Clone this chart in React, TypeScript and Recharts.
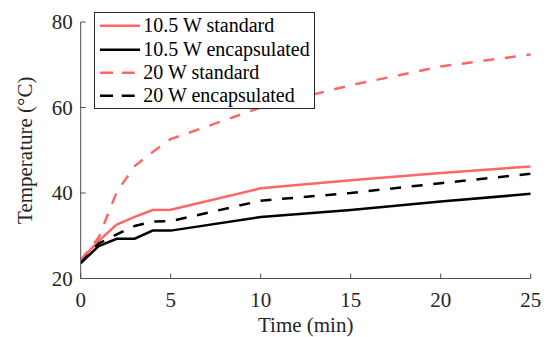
import React from 'react';
import { LineChart, Line, XAxis, YAxis } from 'recharts';

const timeMin = [0, 1, 2, 3, 4, 5, 10, 15, 20, 25];
const std105 = [24.3, 28.8, 32.6, 34.4, 36.0, 36.1, 41.1, 43.0, 44.7, 46.2];
const enc105 = [23.6, 27.6, 29.3, 29.3, 31.2, 31.2, 34.4, 36.0, 38.0, 39.8];
const std20 = [24.3, 29.6, 40.2, 46.3, 49.6, 52.6, 60.0, 65.2, 69.6, 72.4];
const enc20 = [23.6, 28.2, 30.3, 32.3, 33.3, 33.4, 38.2, 40.0, 42.3, 44.5];

const seriesNames = ['10.5 W standard', '10.5 W encapsulated', '20 W standard', '20 W encapsulated'];
const xTicks = [0, 5, 10, 15, 20, 25];
const yTicks = [20, 40, 60, 80];

const RED = '#ff6666';
const BLACK = '#000000';
const DASH = '11 10.7';
const FONT = '"Liberation Serif", "Times New Roman", serif';

const data = timeMin.map((t, i) => ({
  t,
  s105: std105[i],
  e105: enc105[i],
  s20: std20[i],
  e20: enc20[i],
}));

const seriesStyle = [
  { key: 's105', color: RED, dash: undefined as string | undefined },
  { key: 'e105', color: BLACK, dash: undefined as string | undefined },
  { key: 's20', color: RED, dash: DASH },
  { key: 'e20', color: BLACK, dash: DASH },
];

const XTick = (props: any) => {
  const { x, y, payload } = props;
  return (
    <text x={x} y={y} dy={14} textAnchor="middle" fontFamily={FONT} fontSize={21} fill="#262626">
      {payload.value}
    </text>
  );
};

const YTick = (props: any) => {
  const { x, y, payload } = props;
  return (
    <text x={x} y={y} dy={7} textAnchor="end" fontFamily={FONT} fontSize={21} fill="#262626">
      {payload.value}
    </text>
  );
};

export default function App() {
  return (
    <div style={{ position: 'absolute', left: 0, top: 0, width: 549, height: 337, background: '#fff', fontFamily: FONT }}>
      <LineChart
        width={549}
        height={337}
        data={data}
        margin={{ top: 22, right: 18.3, bottom: 0, left: 0 }}
        style={{ fontFamily: FONT }}
      >
        <XAxis
          dataKey="t"
          type="number"
          domain={[0, 25]}
          ticks={xTicks}
          height={58.5}
          tickSize={-5}
          tickMargin={19.5}
          stroke="#4d4d4d"
          tick={<XTick />}
          interval={0}
          allowDataOverflow
          label={{ value: 'Time (min)', position: 'insideBottom', offset: 5, style: { fontFamily: FONT, fontSize: 21, fill: '#262626' } }}
        />
        <YAxis
          type="number"
          domain={[20, 80]}
          ticks={yTicks}
          width={80.7}
          tickSize={-5}
          tickMargin={13}
          stroke="#4d4d4d"
          tick={<YTick />}
          interval={0}
          allowDataOverflow
          label={{ value: 'Temperature (°C)', angle: -90, position: 'insideLeft', offset: 24.5, style: { textAnchor: 'middle', fontFamily: FONT, fontSize: 21, fill: '#262626' } }}
        />
        {seriesStyle.map((s, i) => (
          <Line
            key={s.key}
            name={seriesNames[i]}
            dataKey={s.key}
            type="linear"
            stroke={s.color}
            strokeWidth={2.5}
            strokeDasharray={s.dash}
            dot={false}
            activeDot={false}
            isAnimationActive={false}
          />
        ))}
      </LineChart>
      <div
        style={{
          position: 'absolute',
          left: 93.5,
          top: 12,
          width: 221.5,
          height: 96.5,
          border: '1px solid #262626',
          boxSizing: 'border-box',
          background: '#fff',
        }}
      >
        {seriesStyle.map((s, i) => {
          const cy = 25.8 + 23.4 * i - 12 - 1;
          return (
            <div key={s.key} style={{ position: 'absolute', left: 0, top: cy - 11.7, height: 23.4, width: 219 }}>
              <svg width={42} height={23.4} style={{ position: 'absolute', left: 4, top: 0 }}>
                <line x1={1} x2={41} y1={11.7} y2={11.7} stroke={s.color} strokeWidth={2.5} strokeDasharray={s.dash ? '13 8.7' : undefined} />
              </svg>
              <span
                style={{
                  position: 'absolute',
                  left: 48.8,
                  top: 0,
                  lineHeight: '23.4px',
                  fontFamily: FONT,
                  fontSize: 20,
                  color: '#000',
                  whiteSpace: 'nowrap',
                }}
              >
                {seriesNames[i]}
              </span>
            </div>
          );
        })}
      </div>
    </div>
  );
}
